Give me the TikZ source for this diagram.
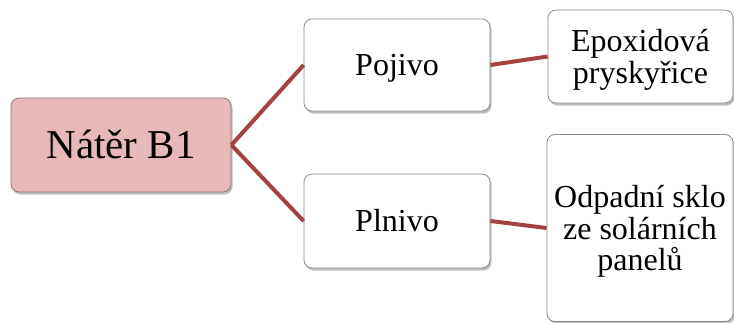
\documentclass[tikz,border=0pt]{standalone}
\usepackage{fontspec}
\setmainfont{Liberation Serif}
\usetikzlibrary{shadows}
\definecolor{rootfill}{HTML}{E6B8B8}
\definecolor{rootdraw}{HTML}{8E7676}
\definecolor{boxdraw}{HTML}{8A8A8A}
\definecolor{linkred}{HTML}{A64141}
\begin{document}
\begin{tikzpicture}[x=1pt,y=-1pt,
  boxbase/.style={draw=boxdraw, line width=0.8pt, rounded corners=8pt, fill=white,
    inner sep=0pt, align=center, text=black,
    drop shadow={shadow xshift=1.5pt, shadow yshift=-2.5pt, opacity=0.25, fill=black}},
  rootbox/.style={boxbase, draw=rootdraw, fill=rootfill, font=\fontsize{41}{41}\selectfont,
    text height=27pt, text depth=0pt},
  childbox/.style={boxbase, font=\fontsize{32}{32}\selectfont, text height=21pt, text depth=0pt},
  leafbox/.style={boxbase, font=\fontsize{32}{31.5}\selectfont, text depth=0pt},
  link/.style={draw=linkred, line width=4pt}]
\useasboundingbox (0,0) rectangle (734,322);
\node[rootbox, minimum width=220pt, minimum height=94pt] (root) at (121,145) {Nátěr B1};
\node[childbox, minimum width=186pt, minimum height=92pt] (poj) at (397,65) {Pojivo};
\node[childbox, minimum width=186pt, minimum height=94pt] (pln) at (397,221) {Plnivo};
\node[leafbox, minimum width=185pt, minimum height=93pt] (epo) at (640.5,56.5) {Epoxidová\\pryskyřice};
\node[leafbox, minimum width=186pt, minimum height=187pt] (odp) at (640,228) {Odpadní sklo\\ze solárních\\panelů};
\draw[link] (root.east) -- (poj.west);
\draw[link] (root.east) -- (pln.west);
\draw[link] (poj.east) -- (epo.west);
\draw[link] (pln.east) -- (odp.west);
\end{tikzpicture}
\end{document}
